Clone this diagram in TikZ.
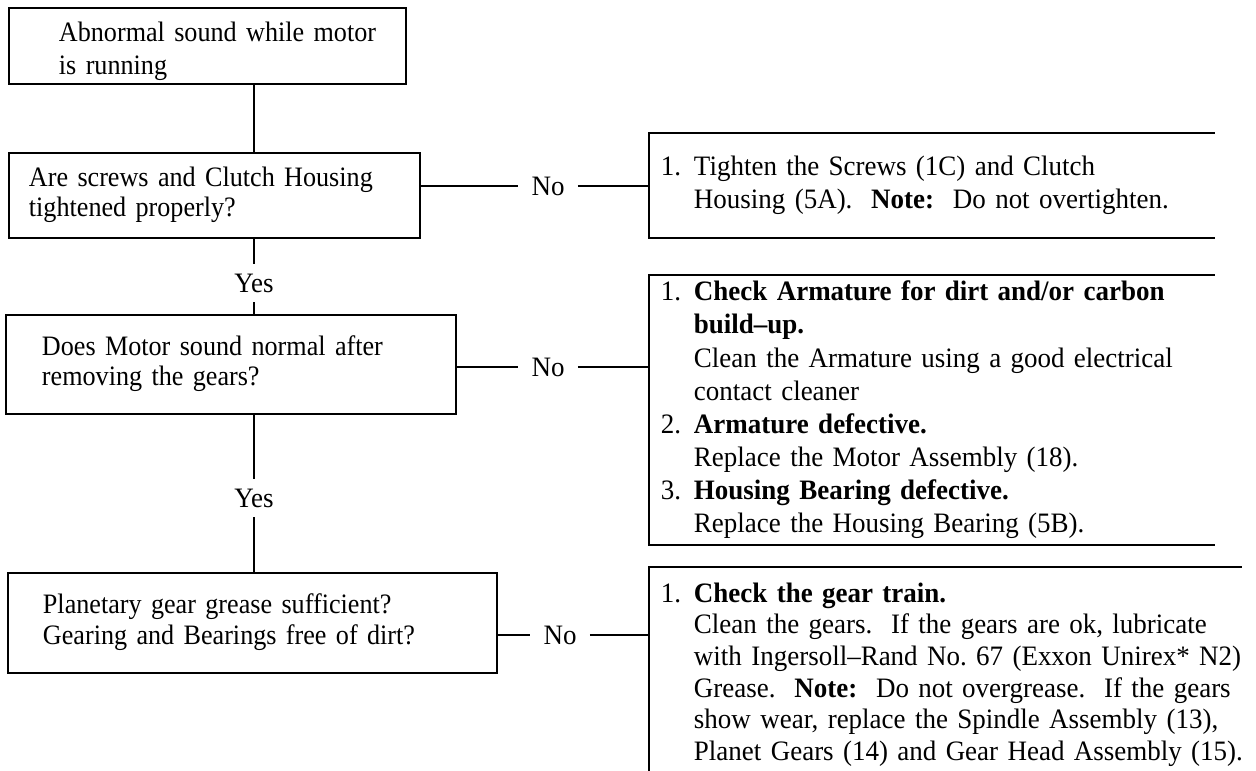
\documentclass[tikz,border=0pt]{standalone}
\usepackage{fontspec}
\setmainfont{Liberation Serif}[FakeStretch=0.96]
\newfontfamily\qfont{Liberation Serif}[FakeStretch=0.93]
\usetikzlibrary{positioning}
\newcommand{\qlines}[2]{\hspace*{#1}\begin{tabular}{@{}l@{}}#2\end{tabular}}
\newcommand{\fixlist}[1]{\begin{tabular}{@{}p{0.66cm}@{}l@{}}#1\end{tabular}}

\begin{document}
\frenchspacing
\begin{tikzpicture}[
  x=0.02cm, y=-0.02cm,
  line width=1.1pt,
  font=\fontsize{16}{18.5}\selectfont,
  qbox/.style={draw, anchor=north west, align=left, inner sep=0pt, font=\qfont\fontsize{16}{17.5}\selectfont},
  fix/.style={anchor=north west, align=left, inner ysep=0pt, inner xsep=0.22cm},
  lbl/.style={inner xsep=7pt, inner ysep=5pt}
]
\useasboundingbox (0,0) rectangle (1256,770);
\clip (0,0) rectangle (1256,770);

\node[qbox, minimum width=7.94cm, minimum height=1.52cm, text width=7.94cm, font=\qfont\fontsize{16}{18.5}\selectfont] (start) at (8,7)
  {\raisebox{-0.11cm}[\height][\depth]{\qlines{1.0cm}{Abnormal sound while motor\\is running}}};
\node[qbox, minimum width=8.22cm, minimum height=1.70cm, text width=8.22cm] (screws) at (8,152)
  {\qlines{0.4cm}{Are screws and Clutch Housing\\tightened properly?}};
\node[qbox, minimum width=9.0cm, minimum height=1.98cm, text width=9.0cm] (motor) at (5,314)
  {\qlines{0.72cm}{Does Motor sound normal after\\removing the gears?}};
\node[qbox, minimum width=9.78cm, minimum height=2.0cm, text width=9.78cm] (grease) at (7,572)
  {\qlines{0.70cm}{Planetary gear grease sufficient?\\Gearing and Bearings free of dirt?}};

\node[fix, minimum width=11.28cm, minimum height=2.06cm, text width=10.84cm] (tighten) at (649,133)
  {\fixlist{1. & Tighten the Screws (1C) and Clutch\\
   & Housing (5A).\ \ \textbf{Note:}\ \ Do not overtighten.}};
\node[fix, minimum width=11.28cm, minimum height=5.36cm, text width=10.84cm, font=\fontsize{16}{18.8}\selectfont] (armature) at (649,275)
  {\fixlist{1. & \textbf{Check Armature for dirt and/or carbon}\\
   & \textbf{build--up.}\\
   & Clean the Armature using a good electrical\\
   & contact cleaner\\
   2. & \textbf{Armature defective.}\\
   & Replace the Motor Assembly (18).\\
   3. & \textbf{Housing Bearing defective.}\\
   & Replace the Housing Bearing (5B).}};
\node[fix, minimum width=11.82cm, minimum height=4.28cm, text width=11.38cm, font=\fontsize{16}{18}\selectfont] (geartrain) at (649,567)
  {\fixlist{1. & \textbf{Check the gear train.}\\
   & Clean the gears.\ \ If the gears are ok, lubricate\\
   & with Ingersoll--Rand No. 67 (Exxon Unirex* N2)\\
   & Grease.\ \ \textbf{Note:}\ \ Do not overgrease.\ \ If the gears\\
   & show wear, replace the Spindle Assembly (13),\\
   & Planet Gears (14) and Gear Head Assembly (15).}};
\draw (tighten.north east) -- (tighten.north west) -- (tighten.south west) -- (tighten.south east);
\draw (armature.north east) -- (armature.north west) -- (armature.south west) -- (armature.south east);
\draw (geartrain.north east) -- (geartrain.north west) -- (geartrain.south west) -- (geartrain.south east);

\coordinate (spine) at (254,0);
\node[lbl] (yes1) at (254,283) {Yes};
\node[lbl] (yes2) at (254,498) {Yes};
\node[lbl] (no1) at (548,186) {No};
\node[lbl] (no2) at (548,367) {No};
\node[lbl] (no3) at (560,635) {No};

\draw (start.south -| spine) -- (screws.north -| spine);
\draw (screws.south -| spine) -- (yes1) -- (motor.north -| spine);
\draw (motor.south -| spine) -- (yes2) -- (grease.north -| spine);
\draw (no1 -| screws.east) -- (no1) -- (no1 -| tighten.west);
\draw (no2 -| motor.east) -- (no2) -- (no2 -| armature.west);
\draw (no3 -| grease.east) -- (no3) -- (no3 -| geartrain.west);
\end{tikzpicture}
\end{document}
